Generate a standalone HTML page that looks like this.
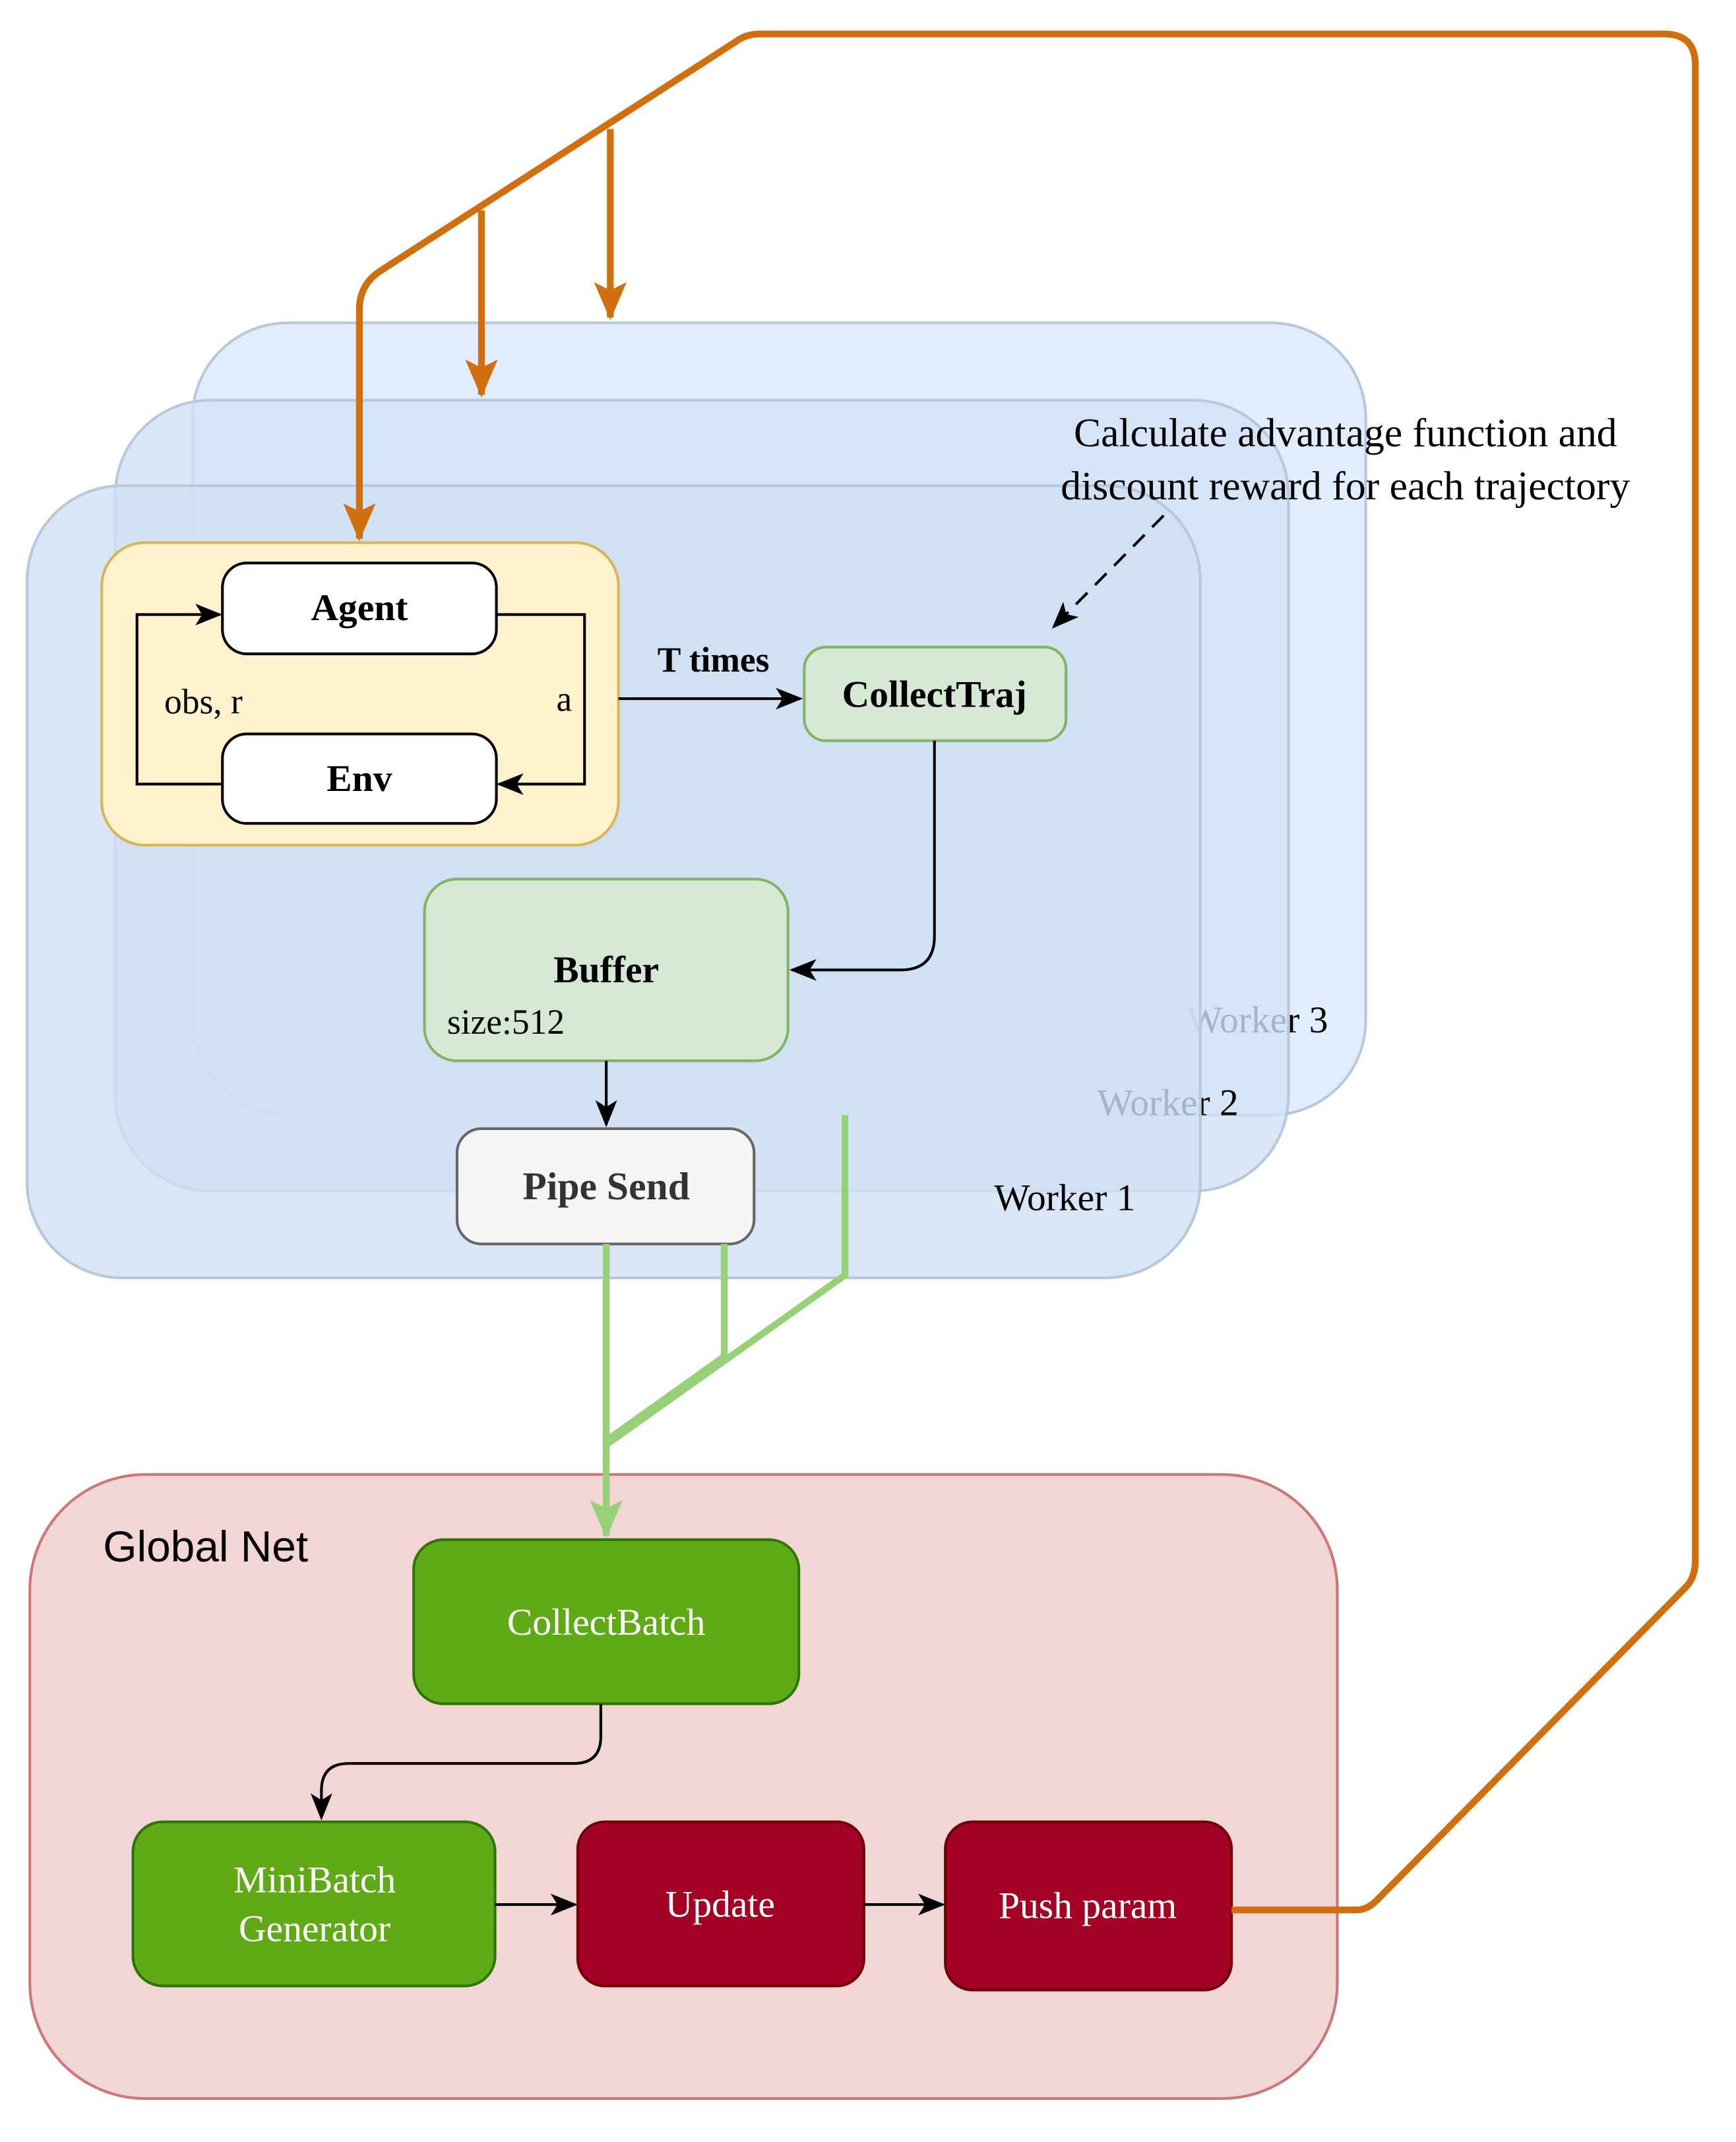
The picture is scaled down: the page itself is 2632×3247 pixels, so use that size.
<!DOCTYPE html>
<html><head><meta charset="utf-8"><style>
html,body{margin:0;padding:0;background:#fff}
svg{display:block}
text{font-family:"Liberation Serif",serif}
</style></head><body>
<svg width="2632" height="3247" viewBox="0 0 1280 1579" xmlns="http://www.w3.org/2000/svg">
<defs>
<marker id="ab2" markerWidth="20" markerHeight="16" refX="18" refY="8" orient="auto" markerUnits="userSpaceOnUse"><path d="M0,0 L20,8 L0,16 L5,8 Z" fill="#000"/></marker>
<marker id="ao" markerWidth="30" markerHeight="28" refX="26" refY="14" orient="auto" markerUnits="userSpaceOnUse"><path d="M0,2 L28,14 L0,26 L6,14 Z" fill="#d16e0e"/></marker>
<marker id="ag" markerWidth="30" markerHeight="28" refX="26" refY="14" orient="auto" markerUnits="userSpaceOnUse"><path d="M0,2 L28,14 L0,26 L6,14 Z" fill="#97d077"/></marker>
</defs>
<!-- worker 3 -->
<rect x="142" y="238" width="865" height="584" rx="70" fill="#dae8fc" fill-opacity="0.8" stroke="#b8c8dc" stroke-width="2"/>
<text x="875" y="761" font-size="28" fill="#000">Worker 3</text>
<!-- worker 2 -->
<rect x="85" y="295" width="865" height="583" rx="70" fill="#d2e1f5" fill-opacity="0.8" stroke="#b8c8dc" stroke-width="2"/>
<text x="809" y="822" font-size="28" fill="#000">Worker 2</text>
<!-- worker 1 -->
<rect x="20" y="358" width="865" height="584" rx="70" fill="#d0e0f3" fill-opacity="0.8" stroke="#b8c8dc" stroke-width="2"/>
<text x="733" y="892" font-size="28" fill="#000">Worker 1</text>

<!-- yellow group -->
<rect x="75" y="400" width="381" height="223" rx="32" fill="#fff2cc" stroke="#d6b656" stroke-width="2"/>
<rect x="164" y="415" width="202" height="67" rx="18" fill="#fff" stroke="#000" stroke-width="2"/>
<text x="265" y="457" font-size="28" font-weight="bold" text-anchor="middle">Agent</text>
<rect x="164" y="541" width="202" height="66" rx="18" fill="#fff" stroke="#000" stroke-width="2"/>
<text x="265" y="583" font-size="28" font-weight="bold" text-anchor="middle">Env</text>
<path d="M366,453 L431,453 L431,578 L368,578" stroke="#000" stroke-width="2" fill="none" marker-end="url(#ab2)"/>
<path d="M164,578 L101,578 L101,453 L162,453" stroke="#000" stroke-width="2" fill="none" marker-end="url(#ab2)"/>
<text x="150" y="526" font-size="26" text-anchor="middle">obs, r</text>
<text x="416" y="524" font-size="26" text-anchor="middle">a</text>

<path d="M456,515 L590,515" stroke="#000" stroke-width="2" marker-end="url(#ab2)"/>
<text x="526" y="495" font-size="26" font-weight="bold" text-anchor="middle">T times</text>
<rect x="593" y="477" width="193" height="69" rx="16" fill="#d5e8d4" stroke="#82b366" stroke-width="2"/>
<text x="689" y="521" font-size="28" font-weight="bold" text-anchor="middle">CollectTraj</text>

<path d="M858,380 L777,462" stroke="#000" stroke-width="2" stroke-dasharray="12,8" fill="none" marker-end="url(#ab2)"/>
<text x="992" y="329" font-size="30" text-anchor="middle">Calculate advantage function and</text>
<text x="992" y="368" font-size="30" text-anchor="middle">discount reward for each trajectory</text>

<path d="M689,546 L689,690 Q689,715 664,715 L584,715" stroke="#000" stroke-width="2" fill="none" marker-end="url(#ab2)"/>
<rect x="313" y="648" width="268" height="134" rx="24" fill="#d5e8d4" stroke="#82b366" stroke-width="2"/>
<text x="447" y="724" font-size="28" font-weight="bold" text-anchor="middle">Buffer</text>
<text x="373" y="762" font-size="26" text-anchor="middle">size:512</text>
<path d="M447,782 L447,829" stroke="#000" stroke-width="2" marker-end="url(#ab2)"/>
<rect x="337" y="832" width="219" height="85" rx="18" fill="#f5f5f5" stroke="#666" stroke-width="2"/>
<text x="447" y="884" font-size="29" font-weight="bold" text-anchor="middle" fill="#333">Pipe Send</text>

<!-- global net -->
<rect x="22" y="1087" width="964" height="460" rx="85" fill="#f2d5d5" stroke="#d07575" stroke-width="2"/>
<text x="76" y="1151" font-size="32" style="font-family:'Liberation Sans',sans-serif">Global Net</text>

<!-- green lines -->
<g stroke="#97d077" stroke-width="5" fill="none">
<path d="M623,822 L623,940 L447,1065"/>
<path d="M534,917 L534,1000 L447,1062"/>
<path d="M447,917 L447,1132" marker-end="url(#ag)"/>
</g>

<rect x="305" y="1135" width="284" height="121" rx="22" fill="#60a917" stroke="#2d7600" stroke-width="2"/>
<text x="447" y="1205" font-size="28" fill="#fff" text-anchor="middle">CollectBatch</text>
<path d="M443,1256 L443,1280 Q443,1300 423,1300 L257,1300 Q237,1300 237,1320 L237,1340" stroke="#000" stroke-width="2" fill="none" marker-end="url(#ab2)"/>
<rect x="98" y="1343" width="267" height="121" rx="22" fill="#60a917" stroke="#2d7600" stroke-width="2"/>
<text x="232" y="1395" font-size="28" fill="#fff" text-anchor="middle">MiniBatch</text>
<text x="232" y="1431" font-size="28" fill="#fff" text-anchor="middle">Generator</text>
<rect x="426" y="1343" width="211" height="121" rx="20" fill="#a20025" stroke="#6f0000" stroke-width="2"/>
<text x="531" y="1413" font-size="28" fill="#fff" text-anchor="middle">Update</text>
<rect x="697" y="1343" width="211" height="124" rx="20" fill="#a20025" stroke="#6f0000" stroke-width="2"/>
<text x="802" y="1414" font-size="28" fill="#fff" text-anchor="middle">Push param</text>
<path d="M365,1404 L424,1404" stroke="#000" stroke-width="2" marker-end="url(#ab2)"/>
<path d="M637,1404 L695,1404" stroke="#000" stroke-width="2" marker-end="url(#ab2)"/>

<!-- orange -->
<g stroke="#d16e0e" stroke-width="5" fill="none">
<path d="M908,1408 L1000,1408 Q1008,1408 1015,1401 L1243,1170 Q1250,1163 1250,1150 L1250,48 Q1250,25 1227,25 L560,25 Q550,25 542,31 L280,200 Q265,210 265,228 L265,397" marker-end="url(#ao)"/>
<path d="M355,155 L355,291" marker-end="url(#ao)"/>
<path d="M450,95 L450,234" marker-end="url(#ao)"/>
</g>
</svg>
</body></html>
